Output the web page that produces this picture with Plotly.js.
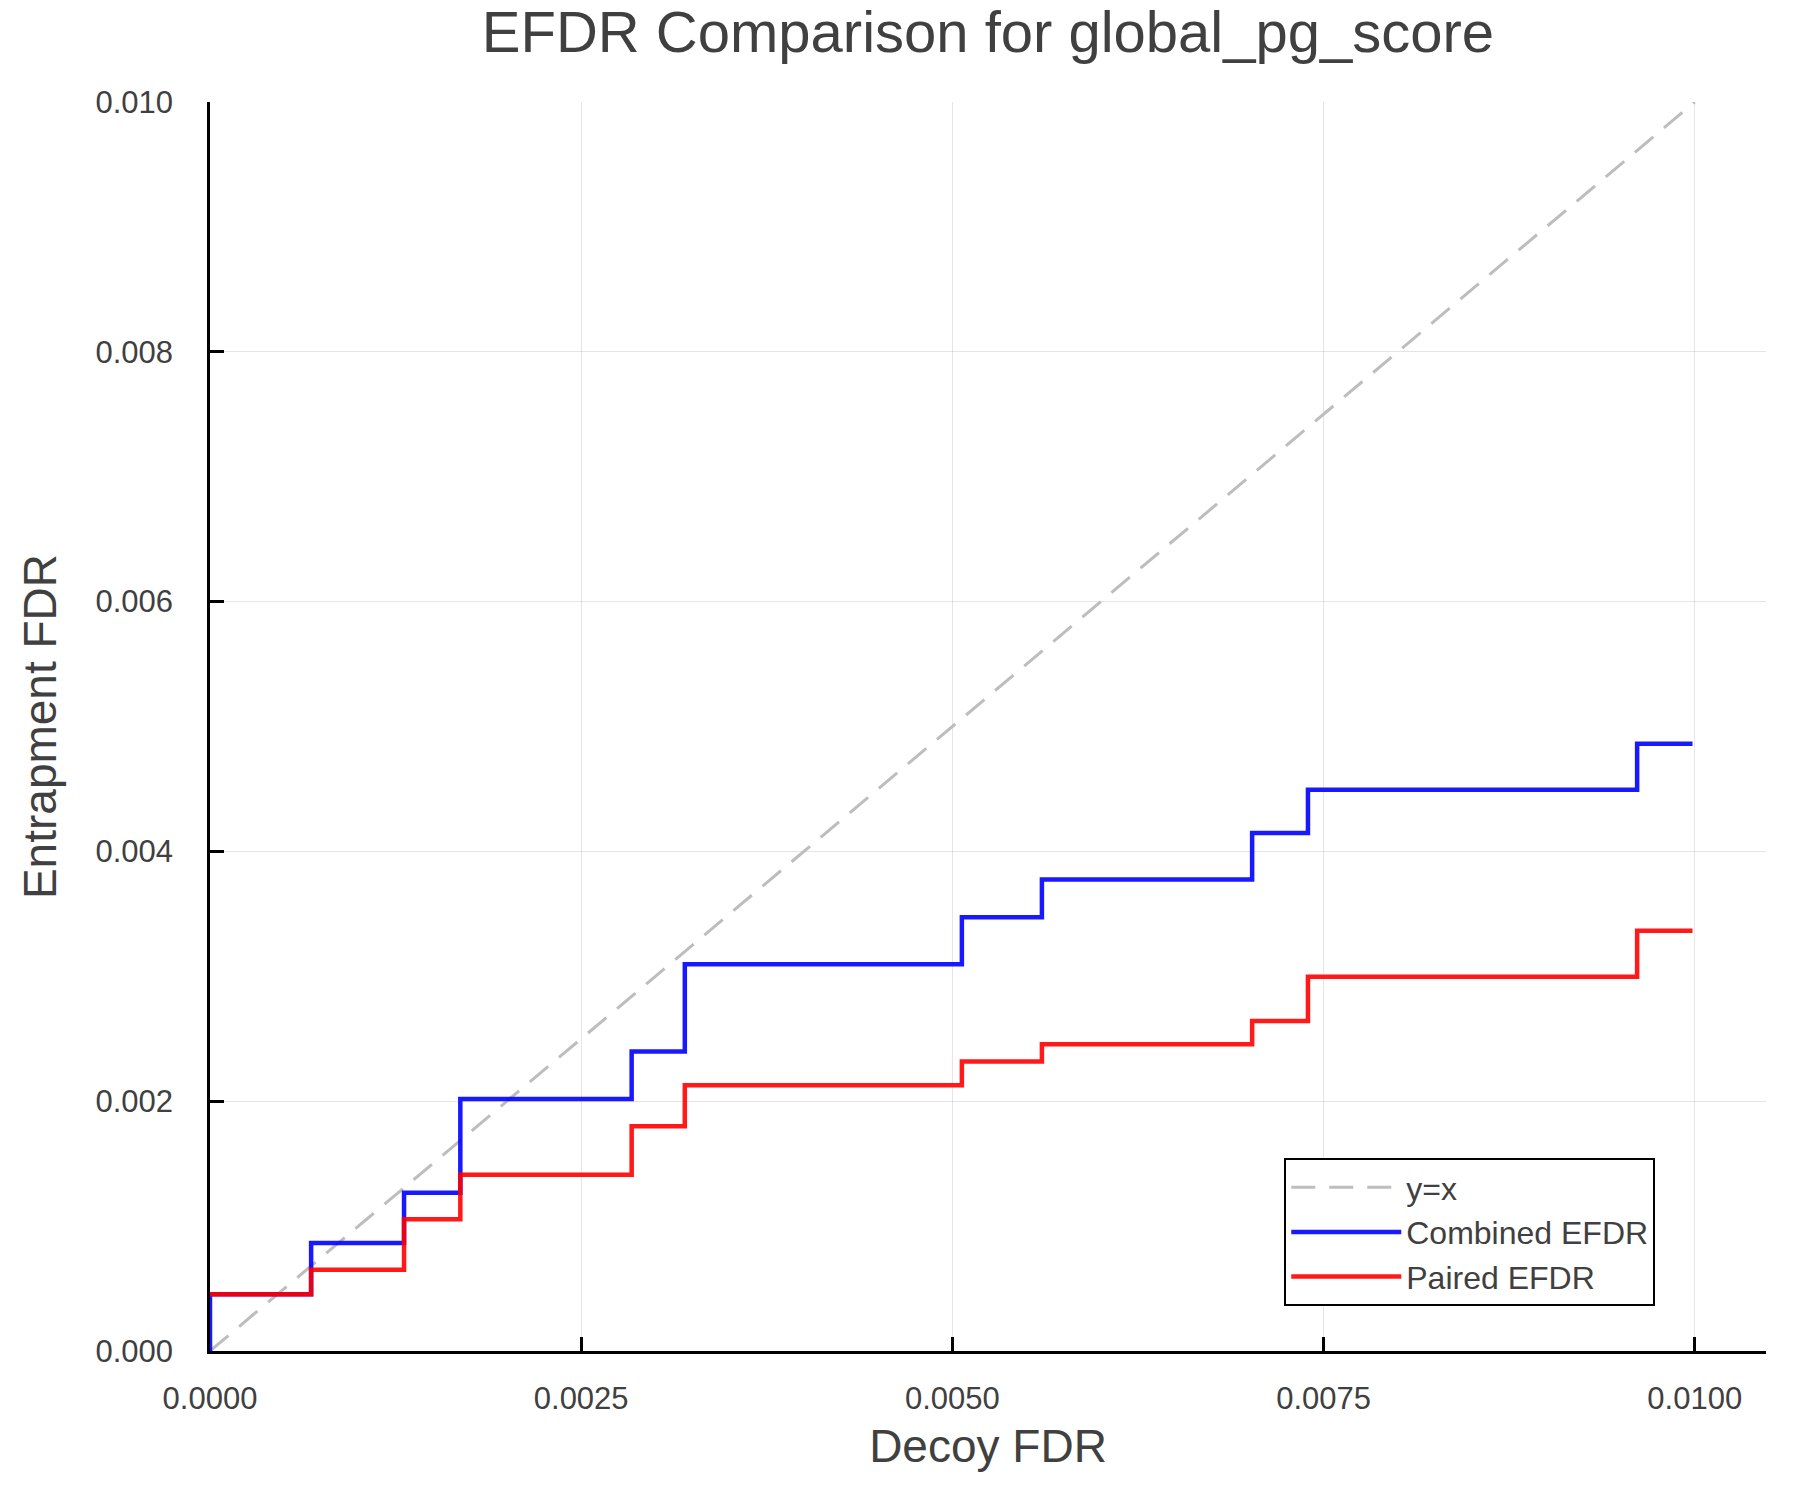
<!DOCTYPE html>
<html>
<head>
<meta charset="utf-8">
<script src="https://cdn.plot.ly/plotly-3.0.1.min.js"></script>
<style>
  body { margin: 0; background: white; }
  #myDiv { width: 1800px; height: 1500px; }
</style>
</head>
<body>
<div id="myDiv"></div>
<script>
  // step points (decoy FDR where the curves jump)
  var decoyFdr = [0, 0.000681, 0.001307, 0.001686, 0.002840, 0.003198, 0.005064, 0.005603, 0.007019, 0.007395, 0.009612, 0.009985];
  var combinedEfdr = [0.000454, 0.000865, 0.001267, 0.002018, 0.002397, 0.003096, 0.003472, 0.003775, 0.004147, 0.004494, 0.004862, 0.004862];
  var pairedEfdr = [0.000454, 0.000651, 0.001054, 0.001412, 0.001799, 0.002127, 0.002317, 0.002456, 0.002642, 0.002996, 0.003365, 0.003365];
  var diagonal = [0, 0.01];

  var fontFam = "Liberation Sans, Arial, sans-serif";
  var textCol = "#404040";

  var data = [{
      type: "scatter",
      mode: "lines",
      name: "y=x",
      x: diagonal,
      y: diagonal,
      line: {color: "#bdbdbd", width: 3, dash: "24px,14px"}
    }, {
      type: "scatter",
      mode: "lines",
      name: "Combined EFDR",
      // blue curve starts on the origin, then climbs at x = 0
      x: [0].concat(decoyFdr),
      y: [0].concat(combinedEfdr),
      line: {color: "rgba(0,0,255,0.9)", width: 4.5, shape: "hv"}
    }, {
      type: "scatter",
      mode: "lines",
      name: "Paired EFDR",
      x: decoyFdr,
      y: pairedEfdr,
      line: {color: "rgba(255,0,0,0.9)", width: 4.5, shape: "hv"}
  }]

  var axisBase = {
    showline: true,
    linecolor: "black",
    linewidth: 2.5,
    mirror: false,
    zeroline: false,
    showgrid: true,
    gridcolor: "rgba(0,0,0,0.1)",
    gridwidth: 1,
    ticks: "inside",
    ticklen: 14,
    tickwidth: 2.5,
    tickcolor: "black",
    tickfont: {family: fontFam, size: 31, color: textCol},
    automargin: true
  }

  var layout = {
    width: 1800,
    height: 1500,
    margin: {t: 102, b: 149, l: 210, r: 34},
    paper_bgcolor: "white",
    plot_bgcolor: "white",
    title: {
      text: "EFDR Comparison for global_pg_score",
      font: {family: fontFam, size: 58, color: textCol},
      x: 0.5, xref: "paper",
      y: 0.979, yref: "container", yanchor: "middle"
    },
    xaxis: Object.assign({}, axisBase, {
      range: [0, 0.01048],
      tick0: 0, dtick: 0.0025,
      tickformat: ".4f",
      ticklabelstandoff: 18,
      title: {text: "Decoy FDR", font: {family: fontFam, size: 46, color: textCol}, standoff: 15}
    }),
    yaxis: Object.assign({}, axisBase, {
      range: [0, 0.01],
      tick0: 0, dtick: 0.002,
      tickformat: ".3f",
      ticklabelstandoff: 28,
      title: {text: "Entrapment FDR", font: {family: fontFam, size: 46, color: textCol}, standoff: 25}
    }),
    showlegend: true,
    legend: {
      x: 0.6904, y: 0.1545, xanchor: "left", yanchor: "top",
      font: {family: fontFam, size: 32, color: textCol},
      bgcolor: "white",
      bordercolor: "black",
      borderwidth: 2,
      itemwidth: 110,
      entrywidth: 420
    }
  }

  Plotly.newPlot('myDiv', data, layout, {displayModeBar: false})
</script>
</body>
</html>
